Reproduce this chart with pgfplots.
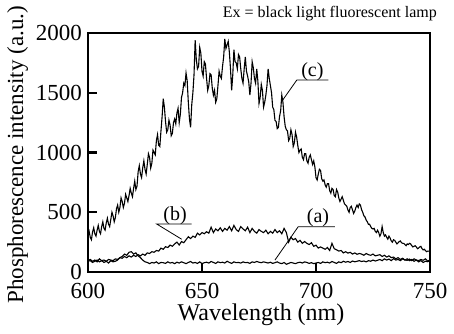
\documentclass[border=0pt]{standalone}
\usepackage{fontspec}
\setmainfont{Liberation Serif}
\usepackage{pgfplots}
\usepackage{pgfplotstable}
\pgfplotsset{compat=1.18}
\pgfplotstableread{
x y
600 310
600.5 340
601 290
601.5 270
602 335
602.5 370
603 320
603.5 300
604 350
604.5 390
605 340
605.5 320
606 380
606.5 420
607 365
607.5 350
608 410
608.5 450
609 400
609.5 380
610 440
610.5 500
611 470
611.5 420
612 455
612.5 530
613 560
613.5 500
614 540
614.5 620
615 590
615.5 540
616 575
616.5 650
617 620
617.5 590
618 640
618.5 700
619 660
619.5 630
620 700
620.5 760
621 690
621.5 720
622 840
622.5 890
623 820
623.5 790
624 870
624.5 930
625 860
625.5 820
626 900
626.5 990
627 960
627.5 870
628 910
628.5 1020
629 1000
629.5 980
630 1100
630.5 1150
631 1060
631.5 1050
632 1180
632.5 1300
633 1450
633.5 1380
634 1260
634.5 1170
635 1190
635.5 1270
636 1230
636.5 1140
637 1160
637.5 1250
638 1280
638.5 1240
639 1330
639.5 1370
640 1250
640.5 1320
641 1460
641.5 1500
642 1580
642.5 1560
643 1665
643.5 1600
644 1420
644.5 1280
645 1210
645.5 1400
646 1500
646.5 1650
647 1940
647.5 1780
648 1700
648.5 1720
649 1880
649.5 1830
650 1680
650.5 1640
651 1760
651.5 1740
652 1620
652.5 1520
653 1560
653.5 1660
654 1650
654.5 1540
655 1480
655.5 1520
656 1420
656.5 1450
657 1560
657.5 1680
658 1640
658.5 1620
659 1720
659.5 1800
660 1950
660.5 1870
661 1900
661.5 1930
662 1840
662.5 1700
663 1520
663.5 1650
664 1860
664.5 1760
665 1750
665.5 1700
666 1820
666.5 1800
667 1700
667.5 1620
668 1580
668.5 1700
669 1800
669.5 1680
670 1640
670.5 1590
671 1480
671.5 1580
672 1760
672.5 1710
673 1620
673.5 1580
674 1700
674.5 1600
675 1410
675.5 1460
676 1570
676.5 1520
677 1380
677.5 1420
678 1480
678.5 1560
679 1700
679.5 1620
680 1560
680.5 1500
681 1380
681.5 1360
682 1270
682.5 1260
683 1200
683.5 1210
684 1300
684.5 1350
685 1480
685.5 1420
686 1300
686.5 1220
687 1190
687.5 1180
688 1100
688.5 1120
689 1190
689.5 1150
690 1050
690.5 1080
691 1170
691.5 1130
692 1060
692.5 1000
693 1020
693.5 1030
694 960
694.5 940
695 990
695.5 990
696 930
696.5 910
697 960
697.5 980
698 940
698.5 900
699 930
699.5 880
700 790
700.5 770
701 820
701.5 860
702 850
702.5 780
703 760
703.5 770
704 730
704.5 710
705 740
705.5 740
706 680
706.5 660
707 700
707.5 690
708 640
708.5 630
709 690
709.5 670
710 620
710.5 590
711 610
711.5 630
712 600
712.5 570
713 560
713.5 550
714 520
714.5 500
715 540
715.5 550
716 520
716.5 490
717 510
717.5 540
718 560
718.5 540
719 570
719.5 560
720 520
720.5 500
721 470
721.5 460
722 435
722.5 420
723 400
723.5 400
724 380
724.5 365
725 360
725.5 365
726 340
726.5 330
727 350
727.5 330
728 300
728.5 320
729 380
729.5 330
730 300
730.5 310
731 290
731.5 275
732 300
732.5 285
733 260
733.5 250
734 270
734.5 265
735 250
735.5 235
736 245
736.5 255
737 260
737.5 245
738 240
738.5 240
739 230
739.5 220
740 235
740.5 230
741 240
741.5 235
742 220
742.5 210
743 215
743.5 220
744 210
744.5 195
745 200
745.5 210
746 215
746.5 195
747 185
747.5 190
748 180
748.5 170
749 175
749.5 175
750 170
}\curvec
\pgfplotstableread{
x y
600 95
601 105
602 90
603 100
604 85
605 110
606 95
607 100
608 90
609 105
610 100
611 95
612 110
613 105
614 120
615 115
616 130
617 120
618 135
619 125
620 140
621 130
622 145
623 135
624 150
625 140
626 160
627 155
628 170
629 165
630 180
631 175
632 200
633 190
634 212
635 205
636 225
637 215
638 235
639 250
640 226
641 255
642 245
643 270
644 295
645 280
646 300
647 290
648 325
649 310
650 330
651 320
652 337
653 325
654 375
655 330
656 360
657 345
658 370
659 340
660 365
661 350
662 380
663 345
664 390
665 355
666 340
667 380
668 360
669 345
670 375
671 330
672 365
673 340
674 325
675 355
676 340
677 330
678 350
679 320
680 340
681 325
682 355
683 330
684 345
685 320
686 365
687 330
688 250
689 290
690 270
691 280
692 250
693 265
694 240
695 255
696 240
697 230
698 245
699 215
700 225
701 200
702 210
703 200
704 190
705 205
706 180
707 240
708 195
709 186
710 175
711 180
712 160
713 170
714 158
715 165
716 150
717 160
718 148
719 155
720 150
721 140
722 155
723 145
724 140
725 150
726 135
727 140
728 145
729 130
730 140
731 125
732 135
733 120
734 125
735 110
736 120
737 105
738 115
739 100
740 110
741 95
742 105
743 90
744 100
745 85
746 95
747 80
748 90
749 86
750 95
}\curveb
\pgfplotstableread{
x y
600 90
601 95
602 80
603 90
604 100
605 85
606 95
607 80
608 90
609 75
610 95
611 85
612 90
613 100
614 120
615 130
616 150
617 140
618 165
619 170
620 150
621 160
622 135
623 120
624 100
625 85
626 80
627 70
628 80
629 75
630 85
631 70
632 80
633 78
634 72
635 85
636 75
637 80
638 70
639 82
640 75
641 85
642 78
643 70
644 80
645 88
646 75
647 80
648 72
649 85
650 70
651 78
652 82
653 75
654 88
655 80
656 72
657 85
658 78
659 82
660 75
661 90
662 80
663 72
664 85
665 78
666 80
667 75
668 85
669 78
670 80
671 72
672 85
673 80
674 88
675 82
676 78
677 85
678 80
679 75
680 82
681 72
682 78
683 85
684 75
685 70
686 80
687 65
688 72
689 80
690 75
691 70
692 78
693 82
694 75
695 85
696 80
697 72
698 78
699 70
700 75
701 80
702 72
703 85
704 78
705 82
706 75
707 88
708 80
709 72
710 85
711 78
712 90
713 82
714 88
715 80
716 92
717 85
718 90
719 95
720 88
721 92
722 85
723 95
724 90
725 100
726 92
727 98
728 105
729 95
730 110
731 100
732 108
733 95
734 112
735 100
736 105
737 95
738 110
739 100
740 98
741 108
742 95
743 110
744 100
745 95
746 105
747 98
748 110
749 92
750 100
}\curvea
\begin{document}
\begin{tikzpicture}
\useasboundingbox (-88pt,-61pt) rectangle (366pt,272pt);
\begin{axis}[
  scale only axis, width=342pt, height=239pt,
  xmin=600, xmax=750, ymin=0, ymax=2000,
  xtick={600,650,700,750}, ytick={0,500,1000,1500,2000},
  tick align=inside, xtick pos=bottom, ytick pos=left,
  major tick length=9pt,
  tick style={black, line width=2.4pt},
  axis line style={line width=2.5pt},
  axis background/.style={draw=black, line width=2.5pt},
  /pgf/number format/assume math mode=true,
  /pgf/number format/1000 sep={},
  tick label style={font=\fontsize{23}{25}\selectfont},
  yticklabel style={anchor=east, inner sep=0pt, xshift=-6pt},
  xticklabel style={anchor=base, inner sep=0pt, yshift=-26pt},
  xlabel={Wavelength (nm)},
  ylabel={Phosphorescence intensity (a.u.)},
  xlabel style={at={(axis description cs:0.506,-0.2008)}, anchor=base, inner sep=0pt, font=\fontsize{24}{26}\selectfont},
  ylabel style={at={(axis description cs:-0.206,0.49)}, anchor=center, inner sep=0pt, font=\fontsize{23}{25}\selectfont},
  title={Ex = black light fluorescent lamp},
  title style={at={(axis description cs:1.0205,1.0377)}, anchor=base east, inner sep=0pt, font=\fontsize{16}{18}\selectfont},
]
\addplot[black, line width=1.1pt] table {\curvea};
\addplot[black, line width=1.1pt] table {\curveb};
\addplot[black, line width=1.1pt] table {\curvec};
\draw[line width=0.8pt] (axis cs:685.4,1439) -- (axis cs:691.6,1607) -- (axis cs:705.4,1607);
\node[anchor=base, inner sep=0pt, font=\fontsize{20}{22}\selectfont] at (axis cs:698.4,1640) {(c)};
\draw[line width=0.8pt] (axis cs:641.1,274) -- (axis cs:630.1,402) -- (axis cs:645.5,402);
\node[anchor=base, inner sep=0pt, font=\fontsize{20}{22}\selectfont] at (axis cs:638.2,435) {(b)};
\draw[line width=0.8pt] (axis cs:682,100) -- (axis cs:692.2,379) -- (axis cs:708.3,379);
\node[anchor=base, inner sep=0pt, font=\fontsize{20}{22}\selectfont] at (axis cs:700.9,414) {(a)};
\end{axis}
\end{tikzpicture}
\end{document}
